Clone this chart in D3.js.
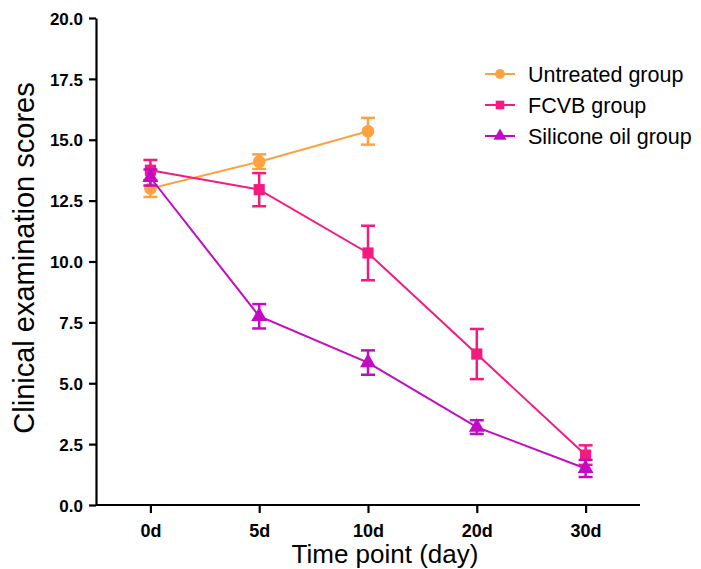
<!DOCTYPE html>
<html>
<head>
<meta charset="utf-8">
<script src="https://cdn.jsdelivr.net/npm/d3@7"></script>
<style>
  body { margin: 0; background: #fff; }
  text { font-family: "Liberation Sans", Arial, sans-serif; }
</style>
</head>
<body>
<svg id="graph" width="701" height="569"></svg>
<script>
var timePoints = ["0d", "5d", "10d", "20d", "30d"];
var yTicks = [0, 2.5, 5, 7.5, 10, 12.5, 15, 17.5, 20];

var untreatedMean = [13.0, 14.1, 15.35];
var untreatedErr = [0.35, 0.3, 0.55];
var fcvbMean = [13.75, 12.95, 10.35, 6.2, 2.05];
var fcvbErr = [0.42, 0.68, 1.12, 1.03, 0.4];
var siliconeMean = [13.45, 7.75, 5.85, 3.2, 1.5];
var siliconeErr = [0.33, 0.5, 0.5, 0.28, 0.35];

var seriesNames = ["Untreated group", "FCVB group", "Silicone oil group"];
var seriesColors = ["#fda23f", "#f51a80", "#c20bc2"];
var seriesShapes = [d3.symbolCircle, d3.symbolSquare, d3.symbolTriangle];

var series = [
  {mean: untreatedMean, err: untreatedErr},
  {mean: fcvbMean, err: fcvbErr},
  {mean: siliconeMean, err: siliconeErr}
].map(function(s, i) {
  return {
    name: seriesNames[i], color: seriesColors[i], shape: seriesShapes[i],
    points: s.mean.map(function(m, j) { return {t: timePoints[j], mean: m, err: s.err[j]}; })
  };
});

var svg = d3.select("#graph"),
  plotLeft = 96, plotRight = 640, plotTop = 18, plotBottom = 505;

var x = d3.scalePoint().domain(timePoints).range([plotLeft, plotRight]).padding(0.5),
  y = d3.scaleLinear().domain([0, 20]).range([plotBottom, plotTop]);

// axes
var yAxis = svg.append("g")
  .attr("transform", "translate(" + plotLeft + ",0)")
  .call(d3.axisLeft(y).tickValues(yTicks).tickFormat(d3.format(".1f")).tickSize(7).tickSizeOuter(0));
var xAxis = svg.append("g")
  .attr("transform", "translate(0," + plotBottom + ")")
  .call(d3.axisBottom(x).tickSize(8).tickSizeOuter(0));
xAxis.select(".domain").attr("d", "M" + plotLeft + ",0H" + plotRight);

svg.selectAll(".domain, .tick line").attr("stroke", "#000").attr("stroke-width", 2.2);
svg.selectAll(".tick text")
  .attr("fill", "#000")
  .attr("font-weight", "bold")
  .attr("font-family", "Liberation Sans, Arial, sans-serif");
yAxis.selectAll(".tick text").attr("font-size", 17).attr("x", -13).attr("dy", "0.36em");
xAxis.selectAll(".tick text").attr("font-size", 18).attr("y", 19);

svg.append("text")
  .attr("transform", "translate(34,258) rotate(-90)")
  .attr("text-anchor", "middle")
  .style("font-size", "29px")
  .text("Clinical examination scores");

svg.append("text")
  .attr("x", 385)
  .attr("y", 563)
  .attr("text-anchor", "middle")
  .style("font-size", "26px")
  .text("Time point (day)");

// series
var line = d3.line()
  .x(function(d) { return x(d.t); })
  .y(function(d) { return y(d.mean); });

series.forEach(function(s) {
  var g = svg.append("g");
  g.append("path")
    .datum(s.points)
    .attr("fill", "none")
    .attr("stroke", s.color)
    .attr("stroke-width", 2)
    .attr("d", line);

  var eb = g.selectAll(".eb").data(s.points).enter().append("g");
  eb.append("line")
    .attr("x1", function(d) { return x(d.t); })
    .attr("x2", function(d) { return x(d.t); })
    .attr("y1", function(d) { return y(d.mean + d.err); })
    .attr("y2", function(d) { return y(d.mean - d.err); });
  eb.append("line")
    .attr("x1", function(d) { return x(d.t) - 7; })
    .attr("x2", function(d) { return x(d.t) + 7; })
    .attr("y1", function(d) { return y(d.mean + d.err); })
    .attr("y2", function(d) { return y(d.mean + d.err); });
  eb.append("line")
    .attr("x1", function(d) { return x(d.t) - 7; })
    .attr("x2", function(d) { return x(d.t) + 7; })
    .attr("y1", function(d) { return y(d.mean - d.err); })
    .attr("y2", function(d) { return y(d.mean - d.err); });
  eb.selectAll("line").attr("stroke", s.color).attr("stroke-width", 2.5);

  g.selectAll(".mk").data(s.points).enter().append("path")
    .attr("transform", function(d) { return "translate(" + x(d.t) + "," + y(d.mean) + ")"; })
    .attr("d", d3.symbol().type(s.shape).size(s.shape === d3.symbolTriangle ? 110 : 125))
    .attr("fill", s.color);
});

// legend
var legend = svg.append("g");
series.forEach(function(s, i) {
  var ly = 74 + i * 31;
  legend.append("line")
    .attr("x1", 485).attr("x2", 515).attr("y1", ly).attr("y2", ly)
    .attr("stroke", s.color).attr("stroke-width", 2);
  legend.append("path")
    .attr("transform", "translate(500," + ly + ")")
    .attr("d", d3.symbol().type(s.shape).size(75))
    .attr("fill", s.color);
  legend.append("text")
    .attr("x", 528).attr("y", ly)
    .attr("dy", "0.36em")
    .style("font-size", "21.5px")
    .text(s.name);
});
</script>
</body>
</html>
